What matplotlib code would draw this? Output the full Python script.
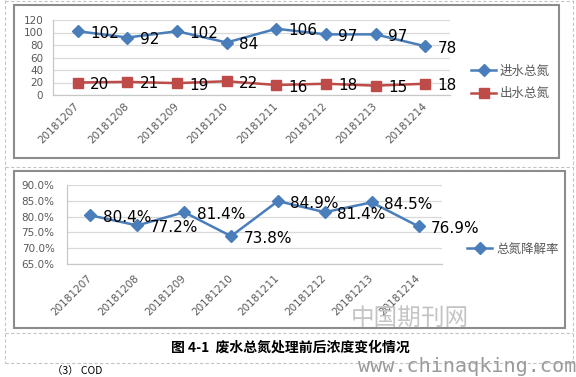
import matplotlib
matplotlib.use("Agg")
import matplotlib.pyplot as plt
from matplotlib.lines import Line2D
from matplotlib.patches import Rectangle

plt.rcParams['font.family'] = ['DejaVu Sans', 'Noto Sans CJK SC']

# ---- data ----
dates = ["20181207", "20181208", "20181209", "20181210",
         "20181211", "20181212", "20181213", "20181214"]
inflow_tn = [102, 92, 102, 84, 106, 97, 97, 78]
outflow_tn = [20, 21, 19, 22, 16, 18, 15, 18]
removal_rate = [80.4, 77.2, 81.4, 73.8, 84.9, 81.4, 84.5, 76.9]
top_yticks = [0, 20, 40, 60, 80, 100, 120]
bot_yticks = [65, 70, 75, 80, 85, 90]
name_in = "进水总氮"
name_out = "出水总氮"
name_rate = "总氮降解率"
caption = "图 4-1  废水总氮处理前后浓度变化情况"

W, H = 576, 377
fig = plt.figure(figsize=(W / 100, H / 100), dpi=100)


def fx(x):
    return x / W


def fy(y):
    return 1 - y / H


def axes_px(l, t, r, b):
    return fig.add_axes([fx(l), fy(b), (r - l) / W, (b - t) / H])


BLUE = "#4a7ebb"
RED = "#be4b48"
GRID = "#d9d9d9"
TICK = "#595959"
CJK = ['Noto Sans CJK SC', 'DejaVu Sans']

# dashed table lines
dash_kw = dict(color="#c4c4c4", lw=0.8, linestyle=(0, (3, 2)),
               transform=fig.transFigure, zorder=-2)
for y in [1, 167, 333, 363]:
    fig.add_artist(Line2D([fx(5), fx(573)], [fy(y), fy(y)], **dash_kw))
for x in [5, 573]:
    fig.add_artist(Line2D([fx(x), fx(x)], [fy(0), fy(363)], **dash_kw))

# chart frames
for (l, t, r, b) in [(14, 5, 559, 158), (14, 171, 565, 328)]:
    fig.add_artist(Rectangle((fx(l), fy(b)), (r - l) / W, (b - t) / H,
                             transform=fig.transFigure, fill=True, zorder=-1,
                             facecolor="white", edgecolor="#8c8c8c", lw=1.5))

x = list(range(len(dates)))


def style_axes(ax, pad_y, pad_x):
    ax.set_facecolor("none")
    for s in ["top", "right"]:
        ax.spines[s].set_visible(False)
    for s in ["left", "bottom"]:
        ax.spines[s].set_color("#c8c8c8")
        ax.spines[s].set_linewidth(0.9)
    ax.yaxis.grid(True, color=GRID, lw=0.9)
    ax.set_axisbelow(True)
    ax.tick_params(axis="both", length=0, labelsize=7.5, labelcolor=TICK)
    ax.tick_params(axis="y", pad=pad_y)
    ax.tick_params(axis="x", pad=pad_x)
    ax.set_xlim(-0.5, len(dates) - 0.5)
    ax.set_xticks(x)
    ax.set_xticklabels(dates, rotation=45, ha="right", rotation_mode="anchor", va="center")


# ---- top chart ----
ax1 = axes_px(53, 20, 450, 95)
ax1.set_ylim(0, 120)
ax1.set_yticks(top_yticks)
style_axes(ax1, 7, 7)
l1, = ax1.plot(x, inflow_tn, color=BLUE, lw=1.8, marker="D", markersize=6,
               label=name_in, clip_on=False)
l2, = ax1.plot(x, outflow_tn, color=RED, lw=1.8, marker="s", markersize=6.5,
               label=name_out, clip_on=False)
for xi, v in zip(x, inflow_tn):
    ax1.annotate(str(v), (xi, v), xytext=(9, -1.5), textcoords="offset points",
                 va="center", ha="left", fontsize=11, color="black")
for xi, v in zip(x, outflow_tn):
    ax1.annotate(str(v), (xi, v), xytext=(9, -1.5), textcoords="offset points",
                 va="center", ha="left", fontsize=11, color="black")
leg1 = fig.legend(handles=[l1, l2], loc="center left",
                  bbox_to_anchor=(fx(465), fy(82.5)), frameon=False,
                  prop={"family": CJK, "size": 9}, handlelength=2.0,
                  labelspacing=0.75, borderpad=0, handletextpad=0.3)
for t in leg1.get_texts():
    t.set_color(TICK)

# ---- bottom chart ----
ax2 = axes_px(67, 185, 442, 264)
ax2.set_ylim(65, 90)
ax2.set_yticks(bot_yticks)
ax2.set_yticklabels([f"{v:.1f}%" for v in bot_yticks])
style_axes(ax2, 9, 9)
l3, = ax2.plot(x, removal_rate, color=BLUE, lw=1.8, marker="D", markersize=6,
               label=name_rate, clip_on=False)
for xi, v in zip(x, removal_rate):
    ax2.annotate(f"{v:.1f}%", (xi, v), xytext=(9, -1.5), textcoords="offset points",
                 va="center", ha="left", fontsize=11, color="black")
leg2 = fig.legend(handles=[l3], loc="center left",
                  bbox_to_anchor=(fx(461), fy(249)), frameon=False,
                  prop={"family": CJK, "size": 9}, handlelength=2.0,
                  borderpad=0, handletextpad=0.3)
for t in leg2.get_texts():
    t.set_color(TICK)

# ---- captions / watermark ----
fig.text(fx(290), fy(348), caption, ha="center", va="center", fontsize=10,
         fontweight="bold", family=CJK, color="black")
fig.text(fx(410), fy(318), "中国期刊网", ha="center", va="center", fontsize=17,
         family=CJK, color="#c4c4c4", fontweight="light")
fig.text(fx(576), fy(366), "www.chinaqking.com", ha="right", va="center",
         fontsize=14.5, family="DejaVu Sans Mono", color="#9a9a9a")
fig.text(fx(52), fy(366), "（3） COD", ha="left", va="top", fontsize=7.5,
         family=CJK, color="black")

fig.savefig("out.png", dpi=100)
